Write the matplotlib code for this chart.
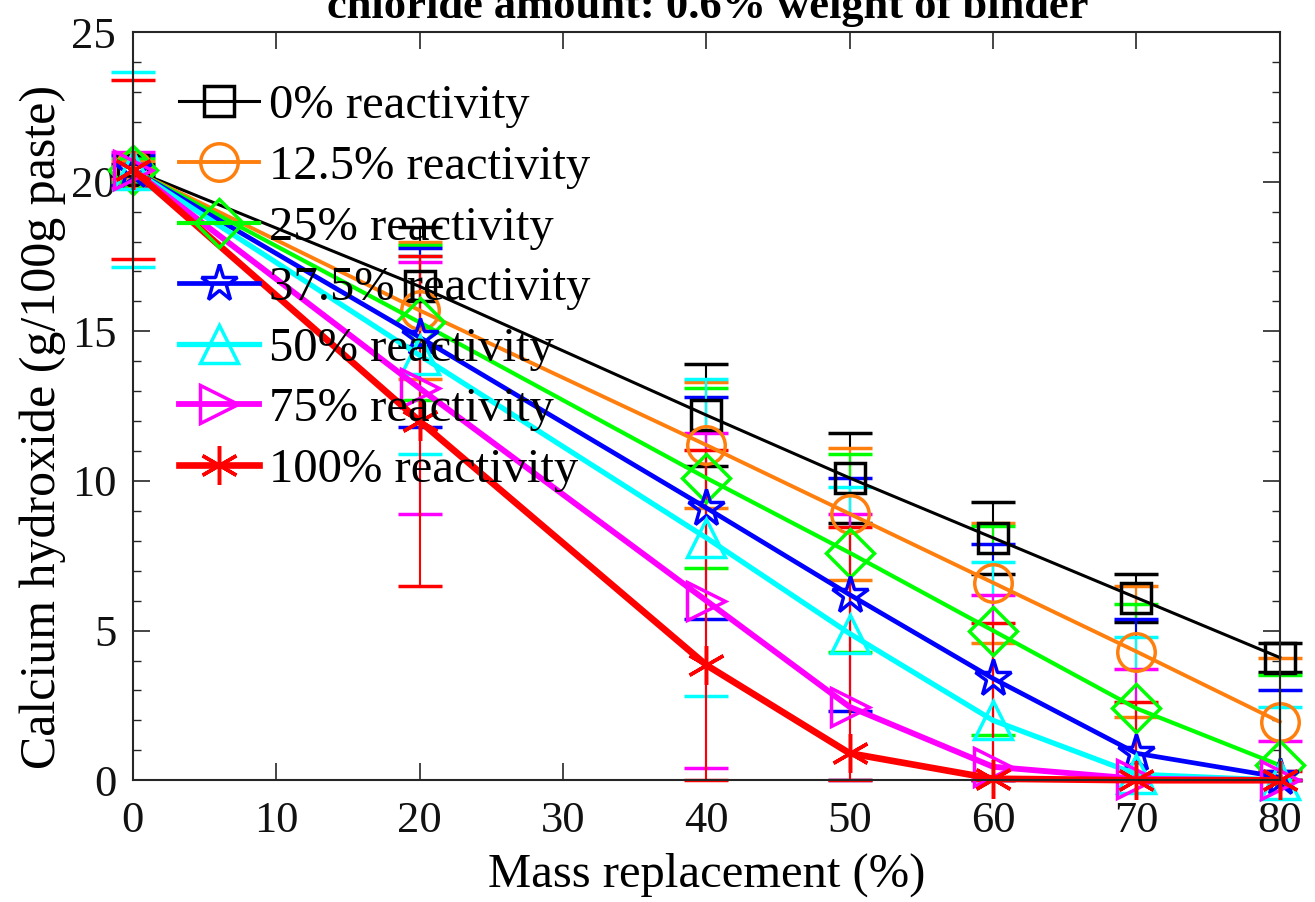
import matplotlib
matplotlib.use("Agg")
import matplotlib.pyplot as plt
from matplotlib.lines import Line2D
import numpy as np

plt.rcParams['font.family'] = ['Liberation Serif', 'DejaVu Serif']
plt.rcParams['mathtext.fontset'] = 'stix'

x = [0, 20, 40, 50, 60, 70, 80]
labels = ["0% reactivity", "12.5% reactivity", "25% reactivity", "37.5% reactivity",
          "50% reactivity", "75% reactivity", "100% reactivity"]
colors = ["#000000", "#ff7f0e", "#00ff00", "#0000ff", "#00ffff", "#ff00ff", "#ff0000"]
markers = ["s", "o", "D", "*", "^", ">", (6, 2, 0)]

y_0 = [20.4, 16.5, 12.2, 10.1, 8.1, 6.1, 4.1]
y_125 = [20.4, 15.7, 11.2, 8.9, 6.6, 4.3, 1.95]
y_25 = [20.4, 15.3, 10.1, 7.6, 5.0, 2.4, 0.5]
y_375 = [20.4, 14.8, 9.1, 6.2, 3.4, 0.9, 0.1]
y_50 = [20.4, 14.2, 8.1, 4.9, 2.0, 0.2, 0.0]
y_75 = [20.4, 13.1, 6.0, 2.45, 0.45, 0.05, 0.0]
y_100 = [20.4, 12.0, 3.85, 0.9, 0.05, 0.0, 0.0]

e_0 = [0.2, 2.0, 1.7, 1.5, 1.2, 0.8, 0.5]
e_125 = [0.3, 2.3, 2.1, 2.2, 2.0, 2.2, 2.15]
e_25 = [0.4, 2.6, 3.0, 3.3, 3.5, 3.5, 3.0]
e_375 = [0.5, 3.0, 3.7, 3.9, 4.5, 4.5, 2.9]
e_50 = [3.25, 3.3, 5.3, 4.9, 5.3, 4.6, 2.45]
e_75 = [0.6, 4.2, 5.6, 6.45, 5.75, 3.65, 1.3]
e_100 = [3.0, 5.5, 7.2, 7.55, 5.2, 2.6, 0.3]

ys = [y_0, y_125, y_25, y_375, y_50, y_75, y_100]
es = [e_0, e_125, e_25, e_375, e_50, e_75, e_100]
lws = [2.2, 2.8, 3.0, 3.4, 3.8, 4.2, 4.8]
mss = [22, 27, 24, 28, 27, 27, 28]

fig = plt.figure(figsize=(13.15, 9.02), dpi=100)
ax = fig.add_axes([0.101, 0.135, 0.8722, 0.8295])

handles = []
for y, e, c, m, lab, lw, ms in zip(ys, es, colors, markers, labels, lws, mss):
    y = np.array(y)
    e = np.array(e)
    lower = np.minimum(e, y)
    cont = ax.errorbar(x, y, yerr=[lower, e], color=c, lw=lw, marker=m, ms=ms,
                       mfc='none', mec=c, mew=2.5, ecolor=c, elinewidth=1.5,
                       capsize=16, capthick=1.5)
    for art in cont.get_children():
        art.set_clip_on(False)
    handles.append(Line2D([], [], color=c, lw=lw, marker=m, ms=ms, mfc='none',
                          mec=c, mew=2.5, label=lab))

ax.set_xlim(0, 80)
ax.set_ylim(0, 25)
ax.set_xticks(np.arange(0, 81, 10))
ax.set_yticks(np.arange(0, 26, 5))
ax.set_yticks(np.arange(0, 26, 1), minor=True)
ax.tick_params(axis='both', which='both', direction='in', top=True, right=True,
               labelsize=32, colors='#262626', labelcolor='#111111')
ax.tick_params(which='major', length=12, width=1.2)
ax.tick_params(which='minor', length=6, width=1.0)
ax.tick_params(axis='x', pad=15)
ax.tick_params(axis='y', pad=12)
for s in ax.spines.values():
    s.set_linewidth(1.5)
    s.set_color('#262626')

ax.set_xlabel("Mass replacement (%)", fontsize=35, labelpad=8)
ax.set_ylabel("Calcium hydroxide (g/100g paste)", fontsize=36)
ax.yaxis.set_label_coords(-0.058, 0.472)

leg = ax.legend(handles=handles, loc='upper left', bbox_to_anchor=(0.040, 0.930),
                frameon=False, fontsize=35, handlelength=1.65, handletextpad=0.2,
                labelspacing=0.34, borderpad=0, borderaxespad=0)

fig.text(0.538, 1 - 18 / 902, "chloride amount: 0.6% weight of binder",
         fontsize=32, fontweight='bold', ha='center', va='baseline')

fig.savefig("out.png", dpi=100)
